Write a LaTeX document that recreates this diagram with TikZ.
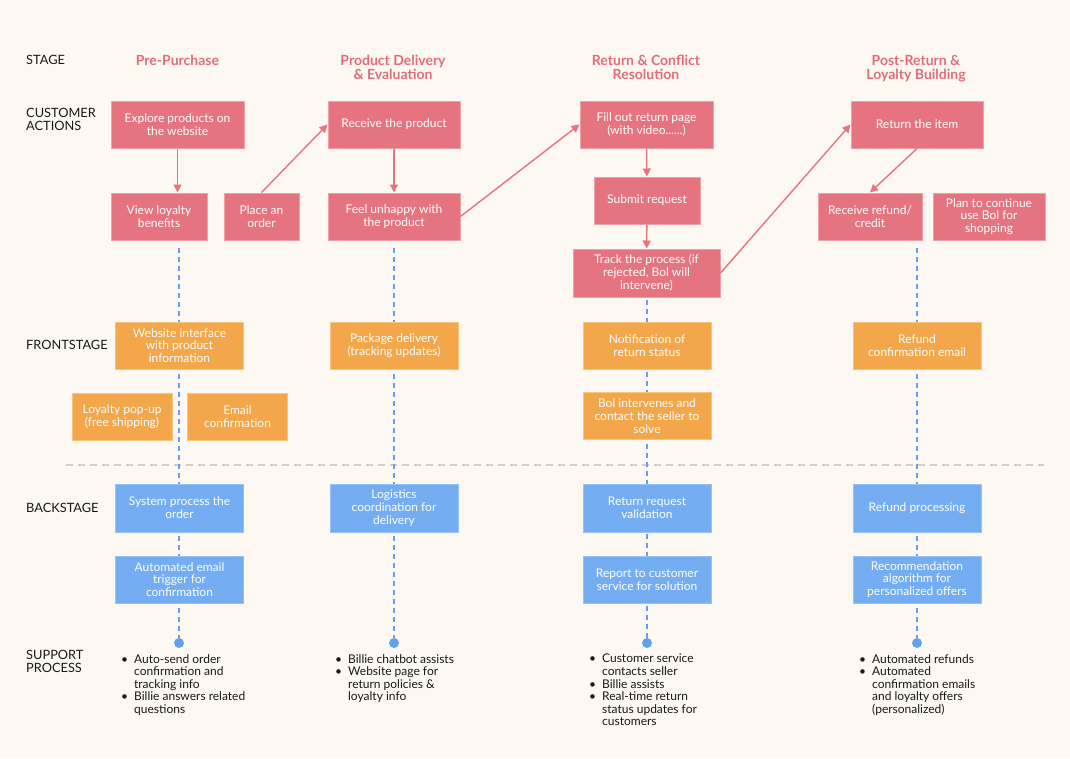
\documentclass[tikz,border=0pt]{standalone}
\usepackage{fontspec}
\setmainfont{Lato}
\usepackage{tikz}
\usetikzlibrary{arrows.meta, positioning}
\definecolor{mybg}{RGB}{253,249,242}
\definecolor{mypink}{RGB}{229,116,128}
\definecolor{pinkedge}{RGB}{242,160,168}
\definecolor{hdrpink}{RGB}{226,108,122}
\definecolor{myorange}{RGB}{243,167,74}
\definecolor{orangeedge}{RGB}{248,196,128}
\definecolor{myblue}{RGB}{116,173,241}
\definecolor{blueedge}{RGB}{150,195,246}
\definecolor{lifeblue}{RGB}{100,160,236}
\definecolor{sepgray}{RGB}{212,205,200}
\definecolor{mydark}{RGB}{25,25,25}
\newcommand{\boxfont}{\fontsize{12}{12.8}\selectfont}
\tikzset{
  actbox/.style={rectangle, draw=pinkedge, fill=mypink, text=white,
    align=center, minimum height=47pt, font=\boxfont, line width=1pt, inner sep=2pt},
  frontbox/.style={rectangle, draw=orangeedge, fill=myorange, text=white,
    align=center, minimum height=47pt, font=\boxfont, line width=1pt, inner sep=2pt},
  backbox/.style={rectangle, draw=blueedge, fill=myblue, text=white,
    align=center, minimum height=47pt, font=\boxfont, line width=1pt, inner sep=2pt},
  flowarrow/.style={-{Triangle[length=8pt,width=8pt]}, line width=1.4pt, color=mypink},
  lifeline/.style={line width=1.5pt, color=lifeblue, dash pattern=on 5pt off 4pt},
  sepline/.style={line width=1.5pt, color=sepgray, dash pattern=on 7pt off 5pt}
}

\begin{document}
\begin{tikzpicture}[x=1pt, y=-1pt,
  stagehdr/.style={font=\fontsize{14}{14}\selectfont\bfseries, text=hdrpink, align=center},
  rowlbl/.style={font=\fontsize{12.8}{13}\selectfont, text=mydark, align=left, anchor=west, inner sep=0pt},
  supp/.style={font=\fontsize{12}{12.5}\selectfont, text=mydark, anchor=north west, inner sep=0pt},
  dotmark/.style={circle, fill=lifeblue, minimum size=10pt, inner sep=0pt}
]
\fill[mybg] (0,0) rectangle (1070,758);
\useasboundingbox (0,0) rectangle (1070,758);
% row labels
\node[rowlbl] (lstage) at (26,60) {STAGE};
\node[rowlbl] (lcust) at (26,119.5) {CUSTOMER\\ACTIONS};
\node[rowlbl] (lfront) at (26,345) {FRONTSTAGE};
\node[rowlbl] (lback) at (26,508) {BACKSTAGE};
\node[rowlbl] (lsupp) at (26,661.5) {SUPPORT\\PROCESS};
% stages
\node[stagehdr] (st1) at (177.5,60) {Pre-Purchase};
\node[stagehdr] (st2) at (393,67) {Product Delivery\\\& Evaluation};
\node[stagehdr] (st3) at (646,67) {Return \& Conflict\\Resolution};
\node[stagehdr] (st4) at (916,69) {Post-Return \&\\Loyalty Building};
% line of visibility
\coordinate (sepL) at (66,465);
\coordinate (sepR) at (1044,465);
\draw[sepline] (sepL) -- (sepR);
% support dots and lifelines
\node[dotmark] (dot1) at (179,643) {};
\node[dotmark] (dot2) at (394,643) {};
\node[dotmark] (dot3) at (647,643) {};
\node[dotmark] (dot4) at (917,643) {};
\coordinate (top1) at (179,248);
\coordinate (top2) at (394,248);
\coordinate (top3) at (647,300);
\coordinate (top4) at (917,248);
\foreach \i in {1,...,4}
  \draw[lifeline] (top\i) -- (dot\i);
% customer actions
\node[actbox, minimum width=133pt] (explore) at (177.5,124.5) {Explore products on\\the website};
\node[actbox, minimum width=96pt] (view) at (159,216.5) {View loyalty\\benefits};
\node[actbox, minimum width=75pt] (place) at (261.5,216.5) {Place an\\order};
\node[actbox, minimum width=132pt] (receive) at (394,124.5) {Receive the product};
\node[actbox, minimum width=132pt] (feel) at (394,216.5) {Feel unhappy with\\the product};
\node[actbox, minimum width=133pt] (fill) at (646.5,124.5) {Fill out return page\\(with video......)};
\node[actbox, minimum width=106pt] (submit) at (647,200.5) {Submit request};
\node[actbox, minimum width=147pt, minimum height=48pt] (track) at (646.5,273) {Track the process (if\\rejected, Bol will\\intervene)};
\node[actbox, minimum width=132pt] (retitem) at (917,124.5) {Return the item};
\node[actbox, minimum width=104pt] (refund) at (870,216.5) {Receive refund/\\credit};
\node[actbox, minimum width=112pt] (plan) at (989,216.5) {Plan to continue\\use Bol for\\shopping};
% frontstage
\node[frontbox, minimum width=128pt] (web) at (179.5,345.5) {Website interface\\with product\\information};
\node[frontbox, minimum width=100pt] (popup) at (122,417) {Loyalty pop-up\\(free shipping)};
\node[frontbox, minimum width=100pt] (email) at (237.5,417) {Email\\confirmation};
\node[frontbox, minimum width=128pt] (package) at (394,345.5) {Package delivery\\(tracking updates)};
\node[frontbox, minimum width=128pt] (notify) at (647,345.5) {Notification of\\return status};
\node[frontbox, minimum width=128pt] (bolint) at (647,416) {Bol intervenes and\\contact the seller to\\solve};
\node[frontbox, minimum width=128pt] (refconf) at (917,345.5) {Refund\\confirmation email};
% backstage
\node[backbox, minimum width=128pt, minimum height=48pt] (sysproc) at (179.5,508) {System process the\\order};
\node[backbox, minimum width=128pt] (autoemail) at (179.5,579.5) {Automated email\\trigger for\\confirmation};
\node[backbox, minimum width=128pt, minimum height=48pt] (logistics) at (394,508) {Logistics\\coordination for\\delivery};
\node[backbox, minimum width=128pt, minimum height=48pt] (validate) at (647,508) {Return request\\validation};
\node[backbox, minimum width=128pt] (report) at (647,579.5) {Report to customer\\service for solution};
\node[backbox, minimum width=128pt, minimum height=48pt] (refproc) at (917,508) {Refund processing};
\node[backbox, minimum width=128pt] (recommend) at (917,579.5) {Recommendation\\algorithm for\\personalized offers};
% customer flow
\draw[flowarrow] (explore.south) -- (explore.south |- view.north);
\draw[flowarrow] (place.north) -- (receive.west);
\draw[flowarrow] (receive) -- (feel);
\draw[flowarrow] (feel.east) -- (fill.west);
\draw[flowarrow] (fill) -- (submit);
\draw[flowarrow] (submit) -- (track);
\draw[flowarrow] (track.east) -- (retitem.west);
\draw[flowarrow] (retitem.south) -- (refund.north);
% support process
\node[supp] (sup1) at (121,654) {\begin{tabular}{@{}l@{\hspace{6pt}}l@{}}
  \textbullet & Auto-send order\\
   & confirmation and\\
   & tracking info\\
  \textbullet & Billie answers related\\
   & questions
\end{tabular}};
\node[supp] (sup2) at (335,654) {\begin{tabular}{@{}l@{\hspace{6pt}}l@{}}
  \textbullet & Billie chatbot assists\\
  \textbullet & Website page for\\
   & return policies \&\\
   & loyalty info
\end{tabular}};
\node[supp] (sup3) at (589,654) {\begin{tabular}{@{}l@{\hspace{6pt}}l@{}}
  \textbullet & Customer service\\
   & contacts seller\\
  \textbullet & Billie assists\\
  \textbullet & Real-time return\\
   & status updates for\\
   & customers
\end{tabular}};
\node[supp] (sup4) at (859,654) {\begin{tabular}{@{}l@{\hspace{6pt}}l@{}}
  \textbullet & Automated refunds\\
  \textbullet & Automated\\
   & confirmation emails\\
   & and loyalty offers\\
   & (personalized)
\end{tabular}};
\end{tikzpicture}
\end{document}
